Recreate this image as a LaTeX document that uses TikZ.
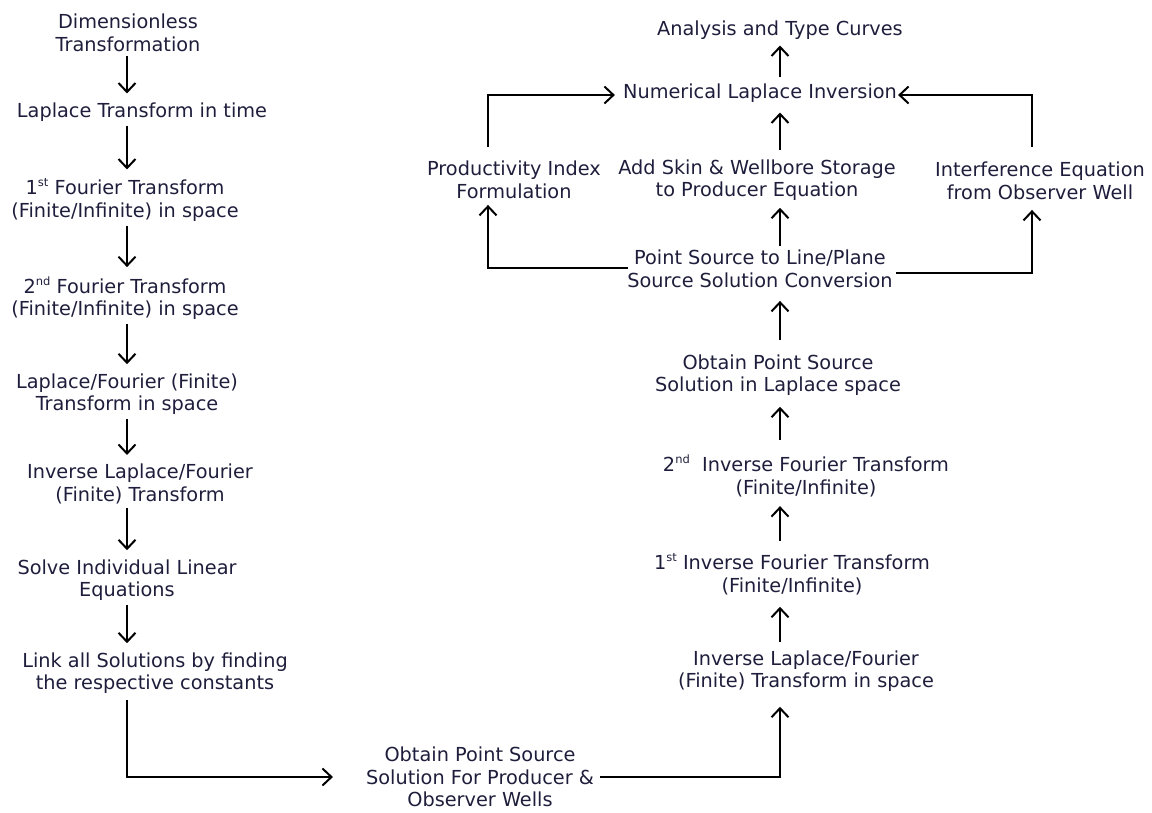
\documentclass[tikz,border=0pt]{standalone}
\usepackage{fontspec}
\setmainfont{DejaVu Sans}
\usetikzlibrary{arrows.meta,calc}
\definecolor{txt}{RGB}{30,30,60}
\newcommand\supx[1]{\raisebox{0.42em}{\fontsize{11.5}{11.5}\selectfont #1}}
\begin{document}
\begin{tikzpicture}[x=1pt,y=-1pt,
  lbl/.style={align=center, text=txt, font=\fontsize{19.3}{22.5}\selectfont, inner sep=3pt},
  arr/.style={line width=2pt, -{Straight Barb[length=9pt,width=17pt,line width=2pt]}}]
\useasboundingbox (0,0) rectangle (1152,812);
\coordinate (colL) at (127,0);
\coordinate (colR) at (780,0);
\coordinate (colP) at (488,0);
\coordinate (colI) at (1032,0);
% left column
\node[lbl] (dim) at (128,33) {Dimensionless\\Transformation};
\node[lbl] (lap) at (142,112) {Laplace Transform in time};
\node[lbl] (f1) at (125,200) {1\supx{st} Fourier Transform\\(Finite/Infinite) in space};
\node[lbl] (f2) at (125,298) {2\supx{nd} Fourier Transform\\(Finite/Infinite) in space};
\node[lbl] (lf) at (127,394) {Laplace/Fourier (Finite)\\Transform in space};
\node[lbl] (ilf) at (140,484) {Inverse Laplace/Fourier\\(Finite) Transform};
\node[lbl] (solve) at (127,580) {Solve Individual Linear\\Equations};
\node[lbl] (link) at (155,673) {Link all Solutions by finding\\the respective constants};
\node[lbl] (obt) at (480,777) {Obtain Point Source\\Solution For Producer \&\\Observer Wells};
% right column
\node[lbl] (ilfs) at (806,671) {Inverse Laplace/Fourier\\(Finite) Transform in space};
\node[lbl] (if1) at (792,574) {1\supx{st} Inverse Fourier Transform\\(Finite/Infinite)};
\node[lbl] (if2) at (806,476) {2\supx{nd}\ \ Inverse Fourier Transform\\(Finite/Infinite)};
\node[lbl] (ops) at (778,375) {Obtain Point Source\\Solution in Laplace space};
\node[lbl] (psl) at (760,269) {Point Source to Line/Plane\\Source Solution Conversion};
\node[lbl] (skin) at (757,180) {Add Skin \& Wellbore Storage\\to Producer Equation};
\node[lbl] (nli) at (760,93) {Numerical Laplace Inversion};
\node[lbl] (atc) at (780,30) {Analysis and Type Curves};
\node[lbl] (pi) at (514,180) {Productivity Index\\Formulation};
\node[lbl] (ie) at (1040,181) {Interference Equation\\from Observer Well};
% left arrows
\draw[arr, shorten <=1pt, shorten >=6pt] (dim.south -| colL) -- (lap.north -| colL);
\draw[arr, shorten <=1pt, shorten >=6pt] (lap.south -| colL) -- (f1.north -| colL);
\draw[arr, shorten <=1pt, shorten >=6pt] (f1.south -| colL) -- (f2.north -| colL);
\draw[arr, shorten <=1pt, shorten >=6pt] (f2.south -| colL) -- (lf.north -| colL);
\draw[arr, shorten <=1pt, shorten >=6pt] (lf.south -| colL) -- (ilf.north -| colL);
\draw[arr, shorten <=1pt, shorten >=6pt] (ilf.south -| colL) -- (solve.north -| colL);
\draw[arr, shorten <=1pt, shorten >=6pt] (solve.south -| colL) -- (link.north -| colL);
\draw[arr, shorten <=3pt] (link.south -| colL) |- ([xshift=-30pt]obt.west);
\draw[arr, shorten >=12pt] ([xshift=3pt]obt.east) -| (ilfs.south -| colR);
% right arrows
\draw[arr, shorten <=5pt, shorten >=9pt] (ilfs.north -| colR) -- (if1.south -| colR);
\draw[arr, shorten <=9pt, shorten >=6pt] (if1.north -| colR) -- (if2.south -| colR);
\draw[arr, shorten <=12pt, shorten >=8pt] (if2.north -| colR) -- (ops.south -| colR);
\draw[arr, shorten <=11pt, shorten >=10pt] (ops.north -| colR) -- (psl.south -| colR);
\draw[arr, shorten <=1pt, shorten >=4pt] (psl.north -| colR) -- (skin.south -| colR);
\draw[arr, shorten <=6pt, shorten >=7pt] (skin.north -| colR) -- (nli.south -| colR);
\draw[arr, shorten <=3pt, shorten >=3pt] (nli.north -| colR) -- (atc.south -| colR);
% side loops
\draw[arr, shorten <=-4pt, shorten >=3pt] ([yshift=1pt]psl.west) -| (pi.south -| colP);
\draw[arr, shorten <=11pt, shorten >=5pt] (pi.north -| colP) |- ([yshift=-2pt]nli.west);
\draw[arr, shorten >=7pt] ([yshift=-4pt]psl.east) -| (ie.south -| colI);
\draw[arr, shorten <=12pt, shorten >=-2pt] (ie.north -| colI) |- ([yshift=-2pt]nli.east);
\end{tikzpicture}
\end{document}
